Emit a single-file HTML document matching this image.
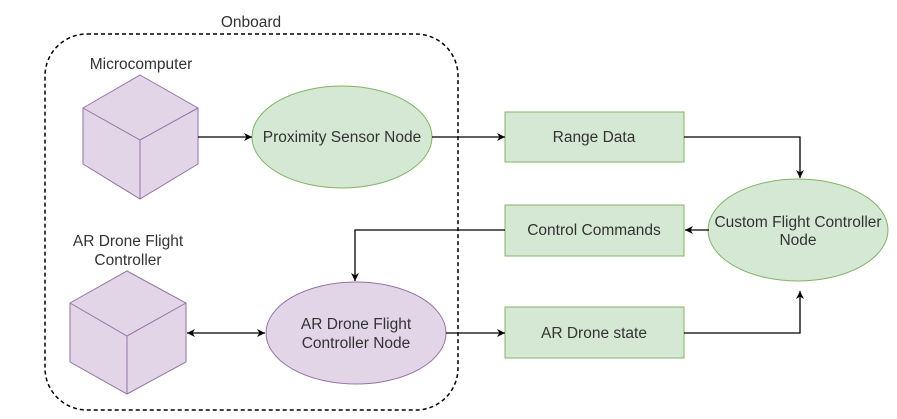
<!DOCTYPE html>
<html><head><meta charset="utf-8"><style>
html,body{margin:0;padding:0;background:#fff;}
svg{display:block;}
text{font-family:"Liberation Sans",Arial,sans-serif;font-size:15.5px;fill:#333;}
</style></head><body>
<svg width="897" height="419" viewBox="0 0 897 419" xmlns="http://www.w3.org/2000/svg">
<defs>
<marker id="a" viewBox="0 0 10 10" refX="10" refY="5" markerWidth="8" markerHeight="8" orient="auto-start-reverse" markerUnits="userSpaceOnUse"><path d="M0,0 L10,5 L0,10 L3,5 z" fill="#000"/></marker>
</defs>
<rect x="45" y="34" width="413" height="376" rx="42" ry="42" fill="none" stroke="#000" stroke-width="1.5" stroke-dasharray="4,3"/>
<text x="251" y="27" text-anchor="middle">Onboard</text>
<text x="141" y="69" text-anchor="middle">Microcomputer</text>
<g fill="#e1d5e7" stroke="#9673a6" stroke-width="1">
<path d="M140,75 L198,108 L198,164 L140,199 L83,164 L83,108 Z"/>
<path d="M83,108 L140,140 L198,108 M140,140 L140,199" fill="none"/>
<path d="M127,271 L186,303 L186,362 L127,394 L70,362 L70,303 Z"/>
<path d="M70,303 L127,336 L186,303 M127,336 L127,394" fill="none"/>
</g>
<text x="128" y="246" text-anchor="middle">AR Drone Flight</text>
<text x="128" y="265" text-anchor="middle">Controller</text>
<ellipse cx="342" cy="137" rx="90" ry="51" fill="#d5e8d4" stroke="#82b366"/>
<text x="342" y="142" text-anchor="middle">Proximity Sensor Node</text>
<ellipse cx="356" cy="333" rx="90" ry="51" fill="#e1d5e7" stroke="#9673a6"/>
<text x="356" y="329" text-anchor="middle">AR Drone Flight</text>
<text x="356" y="348" text-anchor="middle">Controller Node</text>
<ellipse cx="798" cy="230" rx="90" ry="51" fill="#d5e8d4" stroke="#82b366"/>
<text x="798" y="227" text-anchor="middle">Custom Flight Controller</text>
<text x="798" y="245" text-anchor="middle">Node</text>
<g fill="#d5e8d4" stroke="#82b366">
<rect x="505" y="112" width="179" height="50"/>
<rect x="505" y="205" width="179" height="51"/>
<rect x="505" y="307" width="179" height="51"/>
</g>
<text x="594" y="142" text-anchor="middle">Range Data</text>
<text x="594" y="235" text-anchor="middle">Control Commands</text>
<text x="594" y="338" text-anchor="middle">AR Drone state</text>
<g stroke="#000" stroke-width="1.3" fill="none">
<path d="M198,137 L252,137" marker-end="url(#a)"/>
<path d="M432,137 L505,137" marker-end="url(#a)"/>
<path d="M684,137 L800,137 L800,178" marker-end="url(#a)"/>
<path d="M709,230 L685,230" marker-end="url(#a)"/>
<path d="M505,230 L355,230 L355,281" marker-end="url(#a)"/>
<path d="M187,333 L265,333" marker-start="url(#a)" marker-end="url(#a)"/>
<path d="M446,333 L505,333" marker-end="url(#a)"/>
<path d="M684,333 L800,333 L800,291" marker-end="url(#a)"/>
</g>
</svg>
</body></html>
